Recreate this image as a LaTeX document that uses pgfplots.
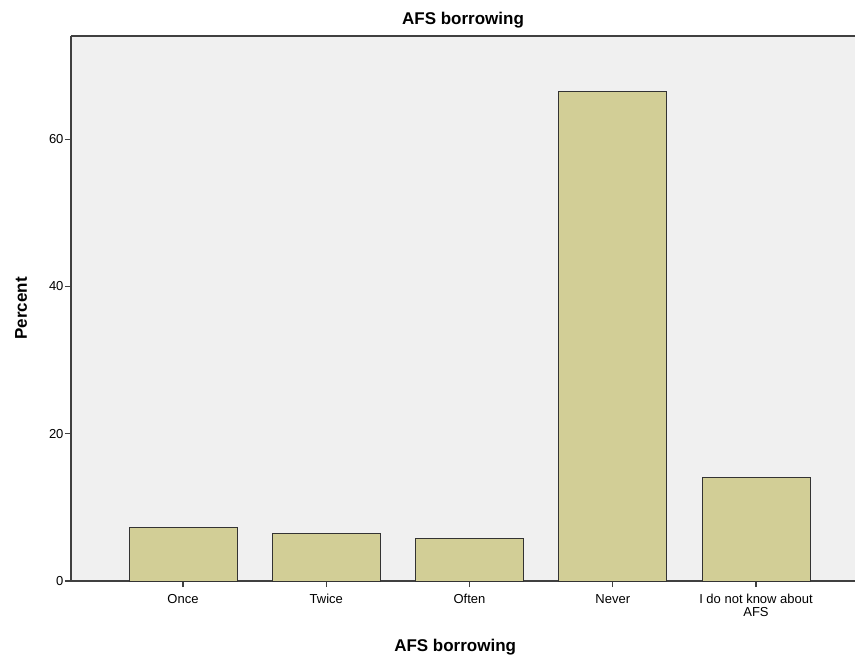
\documentclass[border=0pt]{standalone}
\usepackage{pgfplots}
\pgfplotsset{compat=1.18}
\usepackage{fontspec}
\setmainfont{Liberation Sans}
\definecolor{barfill}{HTML}{D2CE96}
\definecolor{bgc}{HTML}{F0F0F0}
\begin{document}
\begin{tikzpicture}
\begin{axis}[
  at={(0,0)}, anchor=south west,
  scale only axis, width=784pt, height=545pt,
  xmin=-0.782, xmax=4.691, ymin=0, ymax=74,
  axis background/.style={fill=bgc},
  axis x line*=bottom, axis y line*=left,
  axis line style={draw=black!75, line width=1.2pt},
  xtick={0,1,2,3,4},
  xticklabels={Once,Twice,Often,Never,{I do not know about\\AFS}},
  ytick={0,20,40,60},
  tick align=outside, major tick length=6pt,
  tick style={black!75, line width=1.2pt},
  x tick label style={font=\fontsize{13}{13}\selectfont, align=center, yshift=-4pt},
  y tick label style={font=\fontsize{13}{13}\selectfont, xshift=2pt},
  /pgf/number format/assume math mode=true,
  xlabel={\bfseries AFS borrowing},
  ylabel={\bfseries Percent},
  xlabel style={font=\fontsize{17}{17}\selectfont, at={(rel axis cs:0.49,0)}, yshift=-55pt},
  ylabel style={font=\fontsize{17}{17}\selectfont, yshift=15pt},
  title={\bfseries AFS borrowing},
  title style={font=\fontsize{17}{17}\selectfont, yshift=-2pt},
  clip=false,
]
\addplot[ybar, bar width=0.754, fill=barfill, draw=black!80, line width=1pt]
  coordinates {(0,7.2) (1,6.5) (2,5.8) (3,66.4) (4,14.1)};
\draw[black!75, line width=1.2pt] (rel axis cs:0,1) -- (rel axis cs:1,1);
\end{axis}
\pgfresetboundingbox
\path[use as bounding box] (-71pt,-76pt) rectangle (786pt,581pt);
\end{tikzpicture}
\end{document}
